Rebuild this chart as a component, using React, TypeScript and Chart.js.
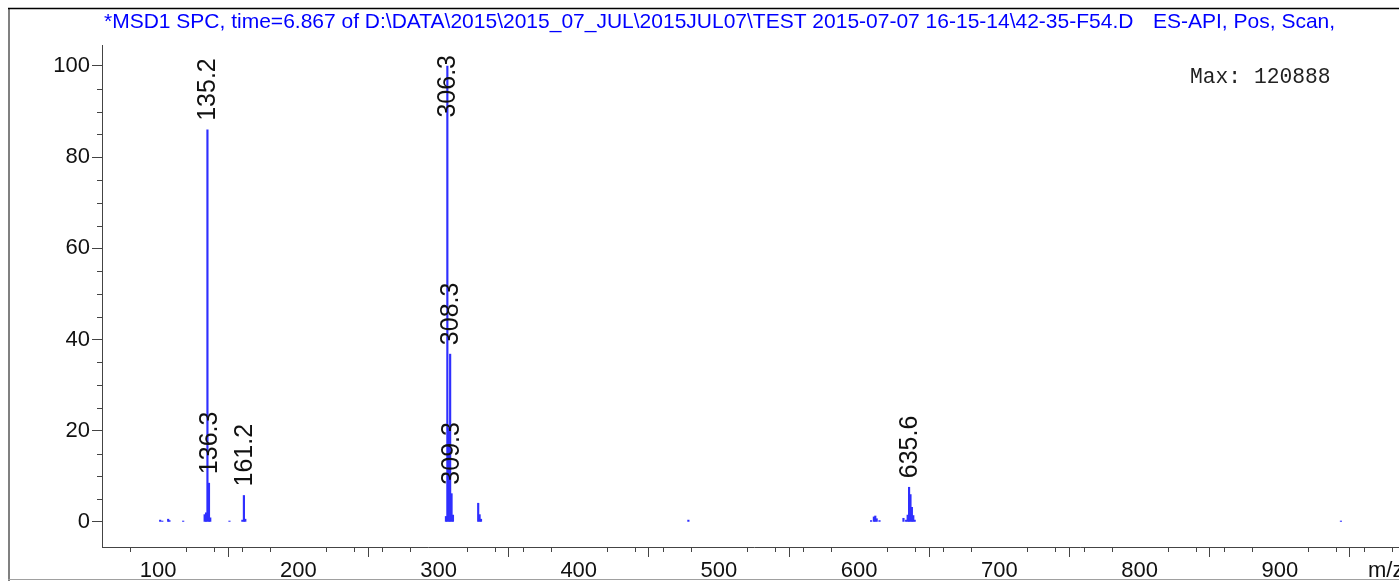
import React, { useEffect, useRef } from 'react';
import { Chart, registerables } from 'chart.js';

Chart.register(...registerables);

// ---- data ----
const titleText = '*MSD1 SPC, time=6.867 of D:\\DATA\\2015\\2015_07_JUL\\2015JUL07\\TEST 2015-07-07 16-15-14\\42-35-F54.D';
const titleSuffix = 'ES-API, Pos, Scan,';
const maxText = 'Max: 120888';
const xAxisTitle = 'm/z';

const mzValues = [
  101.5, 103.0, 107.2, 108.1, 117.9, 133.2, 134.2, 135.2, 136.3, 137.2, 150.9,
  160.1, 161.2, 162.2, 305.3, 306.3, 307.3, 308.3, 309.3, 310.3, 328.3, 329.3,
  330.3, 478.2, 608.5, 610.5, 611.5, 612.5, 614.5, 631.6, 633.5, 634.6, 635.6,
  636.6, 637.6, 638.6, 639.6, 943.6,
];
const intensities = [
  0.4, 0.2, 0.6, 0.3, 0.2, 1.6, 2.0, 86.0, 8.5, 0.9, 0.2,
  0.4, 5.8, 0.6, 1.2, 100, 20.5, 36.8, 6.2, 1.5, 4.1, 1.6,
  0.6, 0.4, 0.3, 1.1, 1.3, 0.7, 0.3, 0.8, 0.4, 1.5, 7.6,
  6.0, 3.2, 1.4, 0.4, 0.2,
];
const labeledPeaks = [135.2, 136.3, 161.2, 306.3, 308.3, 309.3, 635.6];

const xMajorTicks = [100, 200, 300, 400, 500, 600, 700, 800, 900];
const xMinorTicks = [
  80, 120, 140, 160, 180, 220, 240, 260, 280, 320, 340, 360, 380, 420, 440, 460, 480,
  520, 540, 560, 580, 620, 640, 660, 680, 720, 740, 760, 780, 820, 840, 860, 880,
  920, 940, 960, 980,
];
const yMajorTicks = [0, 20, 40, 60, 80, 100];
const yMinorTicks = [5, 10, 15, 25, 30, 35, 45, 50, 55, 65, 70, 75, 85, 90, 95];

const CANVAS_W = 1420;
const CANVAS_H = 581;

export default function App() {
  const canvasRef = useRef<HTMLCanvasElement | null>(null);

  useEffect(() => {
    const canvas = canvasRef.current;
    if (!canvas) return;

    const decorPlugin = {
      id: 'decor',
      beforeDraw(chart: any) {
        const ctx = chart.ctx;
        ctx.save();
        ctx.fillStyle = '#ffffff';
        ctx.fillRect(0, 0, chart.width, chart.height);
        // frame
        ctx.strokeStyle = '#808080';
        ctx.lineWidth = 2;
        ctx.beginPath();
        ctx.moveTo(9, 8);
        ctx.lineTo(9, 581);
        ctx.stroke();
        ctx.strokeStyle = '#000000';
        ctx.lineWidth = 1.5;
        ctx.beginPath();
        ctx.moveTo(8, 8.5);
        ctx.lineTo(chart.width, 8.5);
        ctx.stroke();
        ctx.strokeStyle = '#a0a0a0';
        ctx.lineWidth = 1;
        ctx.beginPath();
        ctx.moveTo(8, 579.5);
        ctx.lineTo(chart.width, 579.5);
        ctx.stroke();
        ctx.restore();
      },
      afterDraw(chart: any) {
        const ctx = chart.ctx;
        const xs = chart.scales.x;
        const ys = chart.scales.y;
        const area = chart.chartArea;
        ctx.save();
        // minor ticks
        ctx.strokeStyle = '#444';
        ctx.lineWidth = 1;
        ctx.beginPath();
        xMinorTicks.forEach((v) => {
          const px = Math.round(xs.getPixelForValue(v)) + 0.5;
          ctx.moveTo(px, area.bottom);
          ctx.lineTo(px, area.bottom + 5);
        });
        yMinorTicks.forEach((v) => {
          const py = Math.round(ys.getPixelForValue(v)) + 0.5;
          ctx.moveTo(area.left, py);
          ctx.lineTo(area.left - 5, py);
        });
        ctx.stroke();

        // peak labels
        ctx.fillStyle = '#111';
        ctx.font = '25px "Liberation Sans", Arial, sans-serif';
        ctx.textAlign = 'left';
        ctx.textBaseline = 'middle';
        labeledPeaks.forEach((mz) => {
          const idx = mzValues.indexOf(mz);
          const val = intensities[idx];
          const txt = mz.toFixed(1);
          const w = ctx.measureText(txt).width;
          const px = xs.getPixelForValue(mz);
          const top = ys.getPixelForValue(val);
          const end = Math.max(top - 9, area.top + 10 + w);
          ctx.save();
          ctx.translate(px, end);
          ctx.rotate(-Math.PI / 2);
          ctx.fillText(txt, 0, 1);
          ctx.restore();
        });

        // title
        ctx.fillStyle = '#0000ff';
        ctx.font = '21px "Liberation Sans", Arial, sans-serif';
        ctx.textBaseline = 'alphabetic';
        ctx.fillText(titleText, 104, 28);
        ctx.fillText(titleSuffix, 1153, 28);

        // max
        ctx.fillStyle = '#222';
        ctx.font = '21.3px "Liberation Mono", "Courier New", monospace';
        ctx.fillText(maxText, 1190, 83);

        // axis title
        ctx.fillStyle = '#111';
        ctx.font = '22px "Liberation Sans", Arial, sans-serif';
        ctx.fillText(xAxisTitle, 1368, 577);
        ctx.restore();
      },
    };

    const chart = new Chart(canvas, {
      type: 'bar',
      data: {
        datasets: [
          {
            data: mzValues.map((x, i) => ({ x, y: intensities[i] })),
            backgroundColor: '#2f2fff',
            borderWidth: 0,
            barThickness: 1.5,
          } as any,
        ],
      },
      options: {
        responsive: false,
        animation: false,
        devicePixelRatio: 1,
        layout: { padding: { left: 0, top: 45, right: CANVAS_W - 1406, bottom: 0 } },
        plugins: {
          legend: { display: false },
          tooltip: { enabled: false },
          title: { display: false },
        },
        scales: {
          x: {
            type: 'linear',
            min: 60,
            max: 990,
            offset: false,
            afterFit: (s: any) => {
              s.height = CANVAS_H - 547;
            },
            afterBuildTicks: (s: any) => {
              s.ticks = xMajorTicks.map((v) => ({ value: v }));
            },
            grid: {
              drawOnChartArea: false,
              drawTicks: true,
              tickLength: 10,
              tickColor: '#444',
            },
            border: { display: true, color: '#444', width: 1 },
            ticks: {
              autoSkip: false,
              maxRotation: 0,
              padding: 1,
              color: '#111',
              font: { family: '"Liberation Sans", Arial, sans-serif', size: 22 },
            },
          },
          y: {
            type: 'linear',
            min: -5.5,
            max: 104.6,
            afterFit: (s: any) => {
              s.width = 102;
            },
            afterBuildTicks: (s: any) => {
              s.ticks = yMajorTicks.map((v) => ({ value: v }));
            },
            grid: {
              drawOnChartArea: false,
              drawTicks: true,
              tickLength: 10,
              tickColor: '#444',
            },
            border: { display: true, color: '#444', width: 1 },
            ticks: {
              autoSkip: false,
              padding: 2,
              color: '#111',
              font: { family: '"Liberation Sans", Arial, sans-serif', size: 22 },
            },
          },
        },
      } as any,
      plugins: [decorPlugin],
    });

    return () => {
      chart.destroy();
    };
  }, []);

  return (
    <div style={{ position: 'fixed', left: 0, top: 0, width: 1399, height: 581, overflow: 'hidden', background: '#fff' }}>
      <canvas
        ref={canvasRef}
        width={CANVAS_W}
        height={CANVAS_H}
        style={{ position: 'absolute', left: 0, top: 0, width: CANVAS_W, height: CANVAS_H }}
      />
    </div>
  );
}
